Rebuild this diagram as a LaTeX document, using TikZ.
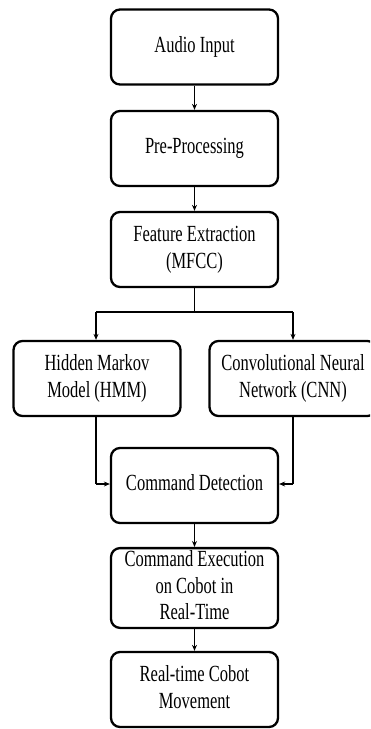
\documentclass[tikz,border=0pt]{standalone}
\usepackage{graphicx}
\usepackage{fontspec}
\setmainfont{Liberation Serif}
\usetikzlibrary{arrows.meta}
\newcommand{\boxtxt}[1]{\scalebox{1}[1.4]{\begin{tabular}{@{}c@{}}#1\end{tabular}}}
\tikzset{
  stagebox/.style={draw=black, line width=2.3pt, rounded corners=9pt, fill=white,
    minimum width=167pt, minimum height=75pt, inner sep=0pt, align=center,
    font=\fontsize{16.5}{19}\selectfont},
  link/.style={line width=1.3pt, -{Stealth[length=6pt,width=5pt]}},
  plain/.style={line width=1.3pt}
}
\begin{document}
\begin{tikzpicture}[x=1pt,y=-1pt]
\clip (0,0) rectangle (370,729);
\fill[white] (0,0) rectangle (370,729);
\node[stagebox] (audio) at (194.5,47) {\boxtxt{Audio Input}};
\node[stagebox] (pre) at (194.5,148.5) {\boxtxt{Pre-Processing}};
\node[stagebox] (fe) at (194.5,249.5) {\boxtxt{Feature Extraction\\(MFCC)}};
\node[stagebox] (hmm) at (97,378.5) {\boxtxt{Hidden Markov\\Model (HMM)}};
\node[stagebox] (cnn) at (293,378.5) {\boxtxt{Convolutional Neural\\Network (CNN)}};
\node[stagebox] (cd) at (194.5,485.5) {\boxtxt{Command Detection}};
\node[stagebox] (ce) at (194.5,588) {\boxtxt{Command Execution\\on Cobot in\\Real-Time}};
\node[stagebox] (rt) at (194.5,689.5) {\boxtxt{Real-time Cobot\\Movement}};
\coordinate (split) at (194.5,312);
\coordinate (splitL) at (96,312);
\coordinate (splitR) at (293,312);
\coordinate (joinL) at (96,484);
\coordinate (joinR) at (293,484);
\draw[link] (audio.south) -- (pre.north);
\draw[link] (pre.south) -- (fe.north);
\draw[plain] (fe.south) -- (split);
\draw[plain] (splitL) -- (splitR);
\draw[link] (splitL) -- (splitL |- hmm.north);
\draw[link] (splitR) -- (splitR |- cnn.north);
\draw[plain] (hmm.south -| joinL) -- (joinL);
\draw[link] (joinL) -- (cd.west |- joinL);
\draw[plain] (cnn.south -| joinR) -- (joinR);
\draw[link] (joinR) -- (cd.east |- joinR);
\draw[link] (cd.south) -- (ce.north);
\draw[link] (ce.south) -- (rt.north);
\end{tikzpicture}
\end{document}
